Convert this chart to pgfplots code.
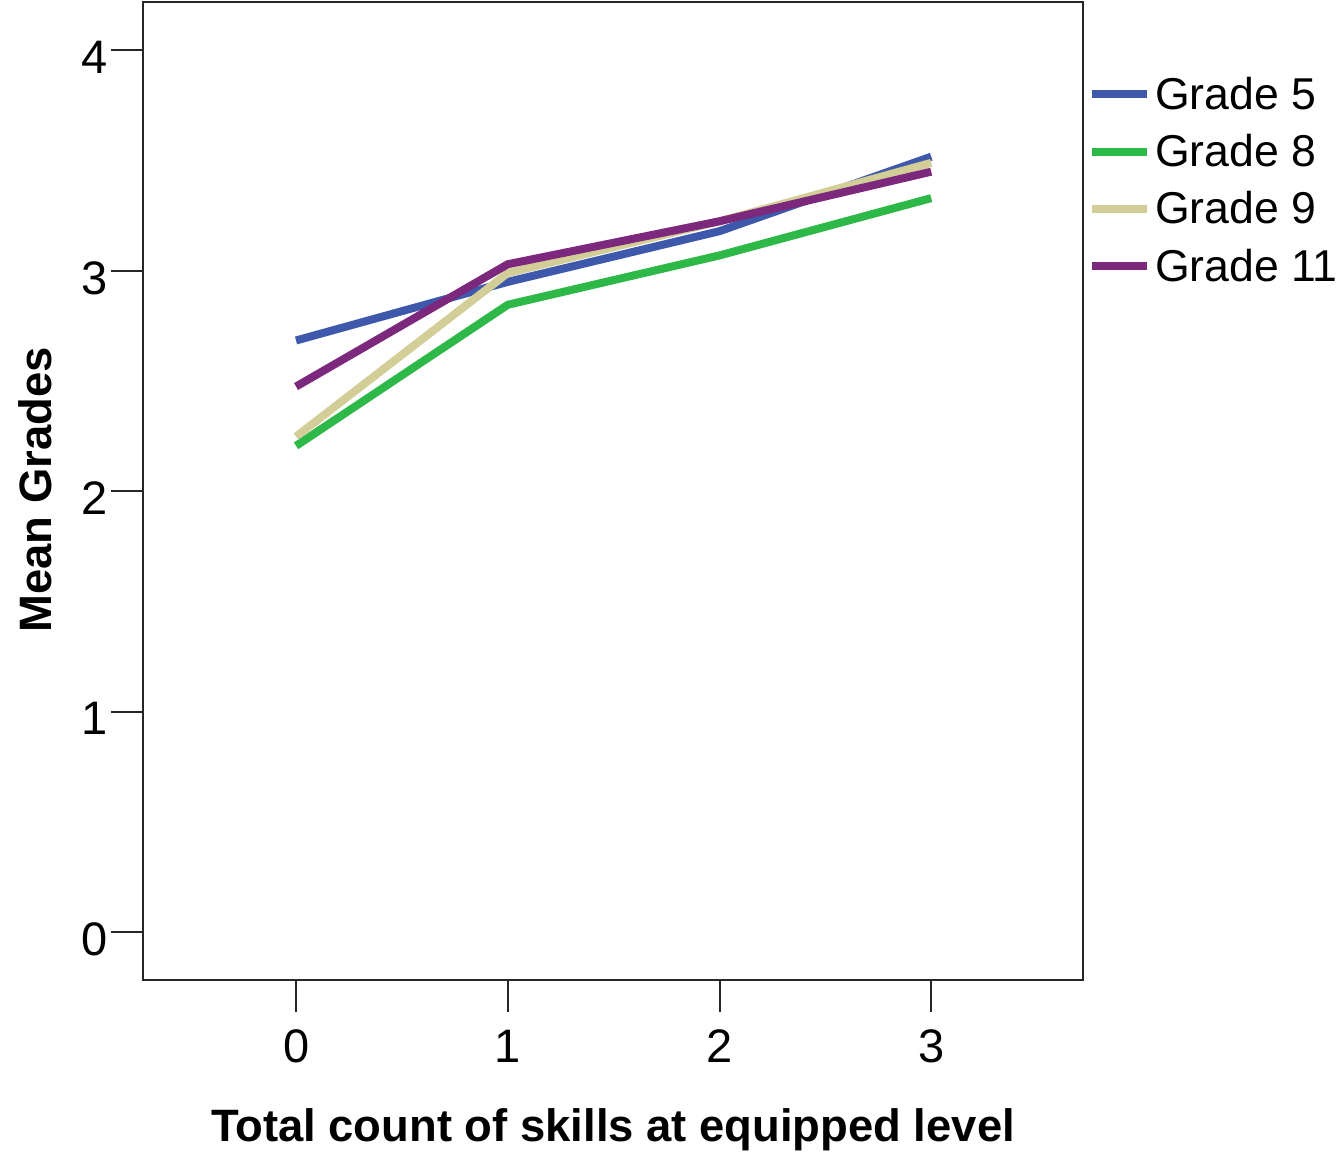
\documentclass[border=0pt]{standalone}
\usepackage{fontspec}
\setmainfont{Liberation Sans}
\usepackage{pgfplots}
\pgfplotsset{compat=1.18}
\definecolor{g5}{HTML}{3E58AC}
\definecolor{g8}{HTML}{2EB848}
\definecolor{g9}{HTML}{D3CE97}
\definecolor{g11}{HTML}{7C287D}
\begin{document}
\begin{tikzpicture}
\path[use as bounding box] (0,0) rectangle (671pt,576pt);
\begin{axis}[
  at={(71.5pt,86pt)}, anchor=south west,
  scale only axis, width=470pt, height=489pt,
  xmin=-0.723, xmax=3.717, ymin=-0.218, ymax=4.22,
  xtick={0,1,2,3}, ytick={0,1,2,3,4},
  tick align=outside, major tick length=16pt,
  tick style={line width=1pt, color=black!85},
  axis line style={line width=1pt, color=black!85},
  xtick pos=bottom, ytick pos=left,
  /pgf/number format/assume math mode=true,
  tick label style={font=\fontsize{23.5}{26}\selectfont},
  xticklabel style={yshift=-5.5pt},
  yticklabel style={yshift=-3.5pt, xshift=2pt},
  xlabel={\textbf{Total count of skills at equipped level}},
  ylabel={\textbf{Mean Grades}},
  label style={font=\fontsize{22.7}{26}\selectfont},
  xlabel style={at={(axis description cs:0.5,-0.153)}, anchor=center},
  ylabel style={at={(axis description cs:-0.115,0.501)}, anchor=center},
  legend style={at={(axis description cs:1.005,0.928)}, anchor=north west,
    draw=none, fill=none, font=\fontsize{22.3}{24}\selectfont,
    row sep=7pt, inner sep=0pt},
  legend cell align=left,
  legend image code/.code={\draw[#1, line width=4pt] (0pt,0pt) -- (27.5pt,0pt);},
  every axis plot/.append style={line width=4pt},
]
\addplot[g5] coordinates {(0,2.684) (1,2.95) (2,3.18) (3,3.518)};
\addlegendentry{Grade 5}
\addplot[g8] coordinates {(0,2.206) (1,2.846) (2,3.07) (3,3.33)};
\addlegendentry{Grade 8}
\addplot[g9] coordinates {(0,2.248) (1,2.99) (2,3.225) (3,3.49)};
\addlegendentry{Grade 9}
\addplot[g11] coordinates {(0,2.475) (1,3.03) (2,3.225) (3,3.45)};
\addlegendentry{Grade 11}
\end{axis}
\end{tikzpicture}
\end{document}
